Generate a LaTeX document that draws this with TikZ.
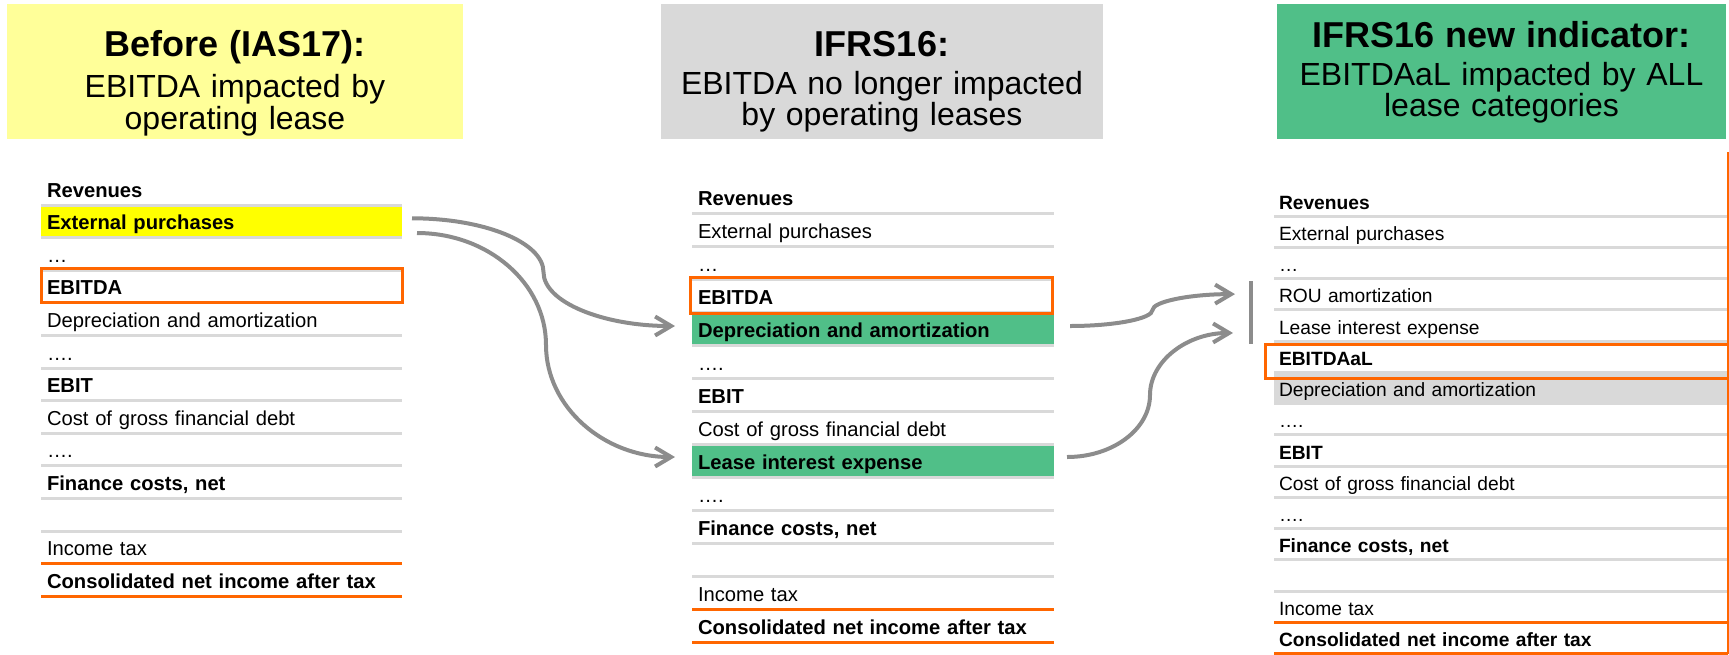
\documentclass[tikz,border=0pt]{standalone}
\usepackage{fontspec}
\setmainfont{Liberation Sans}
\usetikzlibrary{positioning, calc, arrows.meta}

\definecolor{hdryellow}{RGB}{255,255,153}
\definecolor{hdrgray}{RGB}{217,217,217}
\definecolor{leasegreen}{RGB}{80,191,136}
\definecolor{markyellow}{RGB}{255,255,0}
\definecolor{lineorange}{RGB}{255,102,0}
\definecolor{rulegray}{RGB}{217,217,217}
\definecolor{arrowgray}{RGB}{140,140,140}

% tight title lines
\lineskiplimit=-20pt

\tikzset{
  hdr/.style={anchor=north, inner sep=0pt, outer sep=0pt, align=center, text height=26pt,
    text depth=41.5pt, font=\fontsize{16}{14.5}\selectfont},
  rowL/.style={inner ysep=0pt, inner xsep=3pt, outer sep=0pt, align=left, text width=174.5pt,
    text height=12.3pt, text depth=4pt, font=\fontsize{10.1}{12}\selectfont},
  rowM/.style={inner ysep=0pt, inner xsep=3pt, outer sep=0pt, align=left, text width=175pt,
    text height=12.5pt, text depth=4pt, font=\fontsize{10.1}{12}\selectfont},
  rowR/.style={inner ysep=0pt, inner xsep=2.5pt, outer sep=0pt, align=left, text width=222pt,
    text height=12.125pt, text depth=3.5pt, font=\fontsize{9.6}{11}\selectfont},
  rule/.style={draw=rulegray, line width=1.5pt},
  orule/.style={draw=lineorange, line width=1.5pt},
  frame/.style={draw=lineorange, line width=1.5pt},
  flow/.style={draw=arrowgray, line width=2pt, -{Straight Barb[length=8pt,width=9.5pt]}},
  bar/.style={draw=arrowgray, line width=2pt}
}

\begin{document}
\begin{tikzpicture}[x=0.5pt, y=-0.5pt]

\useasboundingbox (0,0) rectangle (1729,654);

% Titles
\node[hdr, fill=hdryellow, text width=228pt] (hL) at (235,4)
  {{\fontsize{18}{14.5}\selectfont\bfseries Before (IAS17):}\\[4.5pt]EBITDA impacted by\\operating lease};
\node[hdr, fill=hdrgray, text width=221pt] (hM) at (882,4)
  {{\fontsize{18}{14.5}\selectfont\bfseries IFRS16:}\\[4.5pt]EBITDA no longer impacted\\by operating leases};
\node[hdr, fill=leasegreen, text width=224.5pt, text height=21.5pt, text depth=46pt,
  font=\fontsize{16}{15.5}\selectfont] (hR) at (1501.5,4)
  {{\fontsize{18}{15.5}\selectfont\bfseries IFRS16 new indicator:}\\[3.5pt]EBITDAaL impacted by ALL\\lease categories};

% Before (IAS17)
\node[rowL, anchor=south west] (L0) at (41,205) {\textbf{Revenues}};
\node[rowL, below=0pt of L0, fill=markyellow] (L1) {\textbf{External purchases}};
\node[rowL, below=0pt of L1] (L2) {…};
\node[rowL, below=0pt of L2] (L3) {\textbf{EBITDA}};
\node[rowL, below=0pt of L3] (L4) {Depreciation and amortization};
\node[rowL, below=0pt of L4] (L5) {….};
\node[rowL, below=0pt of L5] (L6) {\textbf{EBIT}};
\node[rowL, below=0pt of L6] (L7) {Cost of gross financial debt};
\node[rowL, below=0pt of L7] (L8) {….};
\node[rowL, below=0pt of L8] (L9) {\textbf{Finance costs, net}};
\node[rowL, below=0pt of L9] (L10) {};
\node[rowL, below=0pt of L10] (L11) {Income tax};
\node[rowL, below=0pt of L11] (L12) {\textbf{Consolidated net income after tax}};

% IFRS16
\node[rowM, anchor=south west] (M0) at (692,213) {\textbf{Revenues}};
\node[rowM, below=0pt of M0] (M1) {External purchases};
\node[rowM, below=0pt of M1] (M2) {…};
\node[rowM, below=0pt of M2] (M3) {\textbf{EBITDA}};
\node[rowM, below=0pt of M3, fill=leasegreen] (M4) {\textbf{Depreciation and amortization}};
\node[rowM, below=0pt of M4] (M5) {….};
\node[rowM, below=0pt of M5] (M6) {\textbf{EBIT}};
\node[rowM, below=0pt of M6] (M7) {Cost of gross financial debt};
\node[rowM, below=0pt of M7, fill=leasegreen] (M8) {\textbf{Lease interest expense}};
\node[rowM, below=0pt of M8] (M9) {….};
\node[rowM, below=0pt of M9] (M10) {\textbf{Finance costs, net}};
\node[rowM, below=0pt of M10] (M11) {};
\node[rowM, below=0pt of M11] (M12) {Income tax};
\node[rowM, below=0pt of M12] (M13) {\textbf{Consolidated net income after tax}};

% IFRS16 new indicator
\node[rowR, anchor=south west] (R0) at (1274,216) {\textbf{Revenues}};
\node[rowR, below=0pt of R0] (R1) {External purchases};
\node[rowR, below=0pt of R1] (R2) {…};
\node[rowR, below=0pt of R2] (R3) {ROU amortization};
\node[rowR, below=0pt of R3] (R4) {Lease interest expense};
\node[rowR, below=0pt of R4] (R5) {\textbf{EBITDAaL}};
\node[rowR, below=0pt of R5, fill=hdrgray] (R6) {Depreciation and amortization};
\node[rowR, below=0pt of R6] (R7) {….};
\node[rowR, below=0pt of R7] (R8) {\textbf{EBIT}};
\node[rowR, below=0pt of R8] (R9) {Cost of gross financial debt};
\node[rowR, below=0pt of R9] (R10) {….};
\node[rowR, below=0pt of R10] (R11) {\textbf{Finance costs, net}};
\node[rowR, below=0pt of R11] (R12) {};
\node[rowR, below=0pt of R12] (R13) {Income tax};
\node[rowR, below=0pt of R13] (R14) {\textbf{Consolidated net income after tax}};

% row rules
\foreach \i in {0,...,10} \draw[rule] (L\i.south west) -- (L\i.south east);
\foreach \i in {11,12} \draw[orule] (L\i.south west) -- (L\i.south east);
\foreach \i in {0,...,11} \draw[rule] (M\i.south west) -- (M\i.south east);
\foreach \i in {12,13} \draw[orule] (M\i.south west) -- (M\i.south east);
\foreach \i in {0,...,12} \draw[rule] (R\i.south west) -- (R\i.south east);
\foreach \i in {13,14} \draw[orule] (R\i.south west) -- (R\i.south east);

% EBITDA frames
\draw[frame] ([yshift=1pt]L3.north west) rectangle (L3.south east);
\draw[frame] ([xshift=-1pt,yshift=1pt]M3.north west) rectangle ([xshift=-1pt,yshift=-0.5pt]M3.south east);
\draw[frame] ([xshift=-4.5pt,yshift=-1.5pt]R5.north west) rectangle ([yshift=-2.9pt]R5.south east);
\draw[lineorange, line width=0.8pt] ([yshift=16.4pt]R0.north east) -- (R14.south east);

% External purchases split in two
\coordinate (a1) at ([xshift=5pt,yshift=1.5pt]L1.east);
\coordinate (b1) at ([xshift=-8.5pt,yshift=1.25pt]M4.west);
\draw[flow] (a1) .. controls +(72,0) and +(0,-30) .. ($(a1)!.5!(b1)$)
  .. controls +(0,30) and +(-72,0) .. (b1);
\coordinate (a2) at ([xshift=7.5pt,yshift=-5.85pt]L1.east);
\coordinate (b2) at ([xshift=-8.5pt,yshift=1.75pt]M8.west);
\draw[flow] (a2) .. controls +(71,0) and +(0,-62) .. ($(a2)!.5!(b2)$)
  .. controls +(0,62) and +(-71,0) .. (b2);

% both lease lines go above EBITDAaL
\coordinate (a3) at ([xshift=8pt,yshift=1.25pt]M4.east);
\coordinate (b3) at ([xshift=-19.5pt]R3.west);
\draw[flow] (a3) .. controls +(45,0) and +(0,8.5) .. ($(a3)!.5!(b3)$)
  .. controls +(0,-8.5) and +(-45,0) .. (b3);
\coordinate (a4) at ([xshift=6.5pt,yshift=1.75pt]M8.east);
\coordinate (b4) at ([xshift=-20.5pt,yshift=-3.8pt]R4.west);
\draw[flow] (a4) .. controls +(46,0) and +(0,34) .. ($(a4)!.5!(b4)$)
  .. controls +(0,-34) and +(-46,0) .. (b4);
\draw[bar] ([xshift=-11.5pt,yshift=-1.25pt]R3.north west) -- ([xshift=-11.5pt,yshift=-1.5pt]R4.south west);

\end{tikzpicture}
\end{document}
